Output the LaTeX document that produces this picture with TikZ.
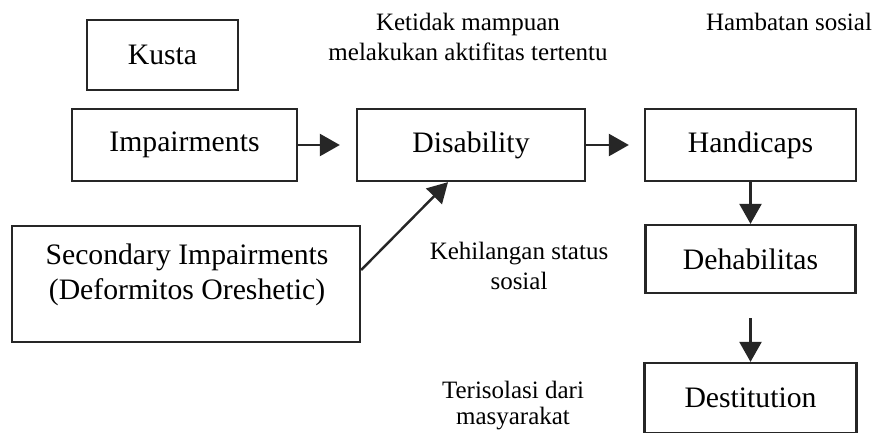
\documentclass[tikz,border=0pt]{standalone}
\usepackage{fontspec}
\setmainfont{Liberation Serif}
\usetikzlibrary{arrows.meta}
\begin{document}
\begin{tikzpicture}[x=1pt,y=-1pt,
  box/.style={draw=black!85, line width=2.3pt, inner sep=0pt, font=\fontsize{29.7}{35.6}\selectfont},
  lbl/.style={align=center, inner sep=0pt, font=\fontsize{25}{29.5}\selectfont},
  arr/.style={line width=2.4pt, draw=black!85, -{Triangle[length=20pt,width=22pt]}}]
\clip (0,0) rectangle (877,432);
\fill[white] (0,0) rectangle (877,432);
% boxes
\node[box, minimum width=151pt, minimum height=70pt] (kusta) at (162.5,55) {Kusta};
\node[box, minimum width=225pt, minimum height=72pt] (imp) at (184.5,145) {Impairments};
\node[box, minimum width=228pt, minimum height=72pt] (dis) at (471,145) {Disability};
\node[box, minimum width=211pt, minimum height=72pt] (hand) at (750.5,145) {Handicaps};
\node[box, minimum width=348pt, minimum height=116pt] (sec) at (186,284) {};
\node[box, draw=none, align=center] (sectext) at (187,275) {Secondary Impairments\\(Deformitos Oreshetic)};
\node[box, minimum width=210pt, minimum height=68pt] (deh) at (750.5,259) {Dehabilitas};
\node[box, minimum width=212pt, minimum height=70pt] (dest) at (750.5,398) {Destitution};
% labels
\node[lbl] (l1) at (468,37) {Ketidak mampuan\\melakukan aktifitas tertentu};
\node[lbl] (l2) at (789,22) {Hambatan sosial};
\node[lbl] (l3) at (519,266) {Kehilangan status\\sosial};
\node[lbl, font=\fontsize{25}{26}\selectfont] (l4) at (513,406) {Terisolasi dari\\masyarakat};
% arrows
\draw[arr, shorten >=16pt] (imp) -- (dis);
\draw[arr, shorten >=15pt] (dis) -- (hand);
\draw[arr] (hand) -- (deh);
\draw[arr, shorten <=24pt] (deh) -- (dest);
\draw[arr] ([yshift=14pt]sec.east) -- ([xshift=-23pt]dis.south);
\end{tikzpicture}
\end{document}
